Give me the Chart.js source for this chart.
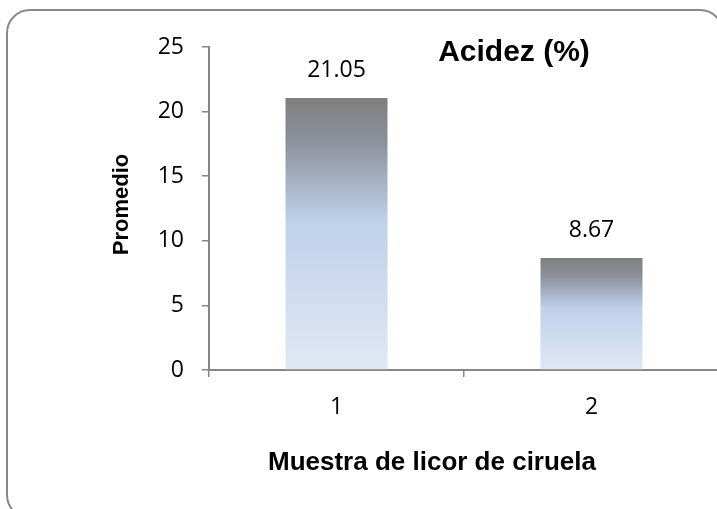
<!DOCTYPE html>
<html>
<head>
<meta charset="utf-8">
<script src="https://cdn.jsdelivr.net/npm/chart.js@4/dist/chart.umd.min.js"></script>
<style>
  html, body { margin: 0; padding: 0; background: #fff; overflow: hidden; }
  canvas { display: block; }
</style>
</head>
<body>
<canvas id="chart" width="740" height="520"></canvas>
<script>
// Sample categories and average acidity per sample
const categories = ['1', '2'];
const acidezPromedio = [21.05, 8.67];
const yMin = 0;
const yMax = 25;
const yStep = 5;
const chartTitle = 'Acidez (%)';
const xTitle = 'Muestra de licor de ciruela';
const yTitle = 'Promedio';

const axisColor = '#868686';
const numberFont = "'Open Sans', 'Noto Sans', sans-serif";
const titleFont = "'Liberation Sans', Arial, sans-serif";

// Vertical gray-to-pale-blue fill spanning each bar's own height
function barGradient(ctx) {
  const chart = ctx.chart;
  if (!chart.chartArea || ctx.type !== 'data' || !ctx.parsed) return '#bccde8';
  const ys = chart.scales.y;
  const top = ys.getPixelForValue(ctx.parsed.y);
  const bottom = ys.getPixelForValue(0);
  const g = chart.ctx.createLinearGradient(0, top, 0, bottom);
  g.addColorStop(0, '#7f7f7f');
  g.addColorStop(0.15, '#8a8f99');
  g.addColorStop(0.45, '#bfd0ea');
  g.addColorStop(1, '#e1e8f4');
  return g;
}

// Rounded frame around the whole chart
const framePlugin = {
  id: 'frame',
  beforeDraw(chart) {
    const c = chart.ctx;
    c.save();
    c.fillStyle = '#ffffff';
    c.fillRect(0, 0, chart.width, chart.height);
    c.beginPath();
    c.roundRect(7, 10, 716, 508, 23);
    c.lineWidth = 2;
    c.strokeStyle = '#888888';
    c.stroke();
    c.restore();
  }
};

// Value labels above bars and the chart/axis titles
const labelsPlugin = {
  id: 'labels',
  afterDatasetsDraw(chart) {
    const c = chart.ctx;
    const area = chart.chartArea;
    c.save();
    c.fillStyle = '#000';
    c.textAlign = 'center';
    c.textBaseline = 'middle';
    c.font = `23px ${numberFont}`;
    chart.getDatasetMeta(0).data.forEach((bar, i) => {
      c.fillText(acidezPromedio[i].toFixed(2), bar.x, bar.y - 28);
    });

    c.font = `bold 30px ${titleFont}`;
    c.fillText(chartTitle, area.left + 305, area.top + 6);

    c.font = `bold 26px ${titleFont}`;
    c.fillText(xTitle, area.left + 223, area.bottom + 93);

    c.save();
    c.translate(area.left - 87, (area.top + area.bottom) / 2 - 4);
    c.rotate(-Math.PI / 2);
    c.font = `bold 22px ${titleFont}`;
    c.fillText(yTitle, 0, 0);
    c.restore();
    c.restore();
  }
};

new Chart(document.getElementById('chart'), {
  type: 'bar',
  data: {
    labels: categories,
    datasets: [{
      data: acidezPromedio,
      backgroundColor: barGradient,
      borderWidth: 0,
      categoryPercentage: 1,
      barPercentage: 0.4
    }]
  },
  options: {
    responsive: false,
    animation: false,
    devicePixelRatio: 1,
    layout: { padding: { left: 0, top: 47, right: 21, bottom: 0 } },
    plugins: {
      legend: { display: false },
      tooltip: { enabled: false },
      title: { display: false }
    },
    scales: {
      x: {
        offset: true,
        grid: {
          display: true,
          offset: true,
          drawOnChartArea: false,
          drawTicks: true,
          tickLength: 7,
          color: axisColor,
          lineWidth: 1.5
        },
        border: { display: true, color: axisColor, width: 2 },
        ticks: {
          color: '#000',
          font: { family: numberFont, size: 23 },
          padding: 17
        },
        afterFit(scale) { scale.height = 150; }
      },
      y: {
        min: yMin,
        max: yMax,
        grid: {
          display: true,
          drawOnChartArea: false,
          drawTicks: true,
          tickLength: 7,
          color: axisColor,
          lineWidth: 1.5
        },
        border: { display: true, color: axisColor, width: 2 },
        ticks: {
          stepSize: yStep,
          color: '#000',
          font: { family: numberFont, size: 23 },
          padding: 18
        },
        afterFit(scale) { scale.width = 209; }
      }
    }
  },
  plugins: [framePlugin, labelsPlugin]
});
</script>
</body>
</html>
